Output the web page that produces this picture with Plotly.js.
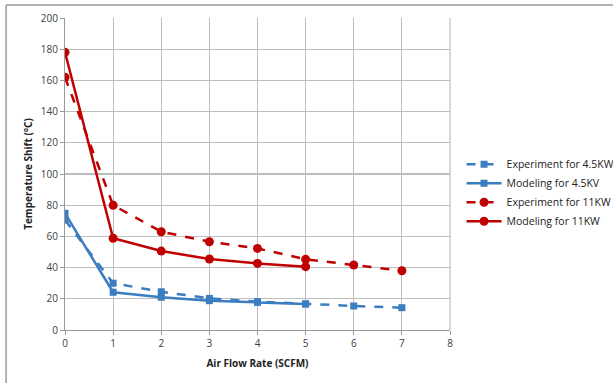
<!DOCTYPE html>
<html><head><meta charset="utf-8">
<script src="https://cdn.plot.ly/plotly-3.0.1.min.js"></script>
<style>html,body{margin:0;padding:0;background:#fff;}#chart{width:613px;height:383px;}</style>
</head><body><div id="chart"></div>
<script>
var xExp = [0, 1, 2, 3, 4, 5, 6, 7];
var xMod = [0, 1, 2, 3, 4, 5];
var exp45 = [70.5, 30, 24.5, 20.3, 18.2, 16.7, 15.4, 14.3];
var mod45 = [74.8, 24.2, 21, 18.8, 17.7, 16.7];
var exp11 = [162, 80, 63, 56.6, 52.3, 45.3, 41.7, 38];
var mod11 = [178, 58.8, 50.6, 45.5, 42.7, 40.6];
var names = ["Experiment for 4.5KW", "Modeling for 4.5KV", "Experiment for 11KW", "Modeling for 11KW"];
var blue = "#3A7DC0", red = "#C00000";

var traces = [
  {x: xExp, y: exp45, name: names[0], mode: "lines+markers", line: {color: blue, width: 2.5, dash: "dash"}, marker: {symbol: "square", size: 7, color: blue}},
  {x: xMod, y: mod45, name: names[1], mode: "lines+markers", line: {color: blue, width: 2.5}, marker: {symbol: "square", size: 7, color: blue}},
  {x: xExp, y: exp11, name: names[2], mode: "lines+markers", line: {color: red, width: 2.5, dash: "dash"}, marker: {symbol: "circle", size: 9, color: red}},
  {x: xMod, y: mod11, name: names[3], mode: "lines+markers", line: {color: red, width: 2.5}, marker: {symbol: "circle", size: 9, color: red}}
];

var layout = {
  width: 613, height: 383,
  margin: {l: 65, r: 163, t: 18, b: 53, autoexpand: false},
  paper_bgcolor: "#fff", plot_bgcolor: "#fff",
  font: {family: "Open Sans, Liberation Sans, sans-serif", size: 10, color: "#404040"},
  showlegend: true,
  legend: {x: 1.03, y: 0.44, xanchor: "left", yanchor: "middle", font: {size: 10.5, color: "#222"}, itemwidth: 35},
  xaxis: {range: [0, 8], dtick: 1, tick0: 0, showgrid: true, gridcolor: "#BEBEBE", gridwidth: 1.2, zeroline: false,
          showline: true, linecolor: "#9A9A9A", ticks: "outside", ticklen: 4, tickcolor: "#9A9A9A", mirror: false,
          title: {text: "Air Flow Rate (SCFM)", font: {size: 10, color: "#222", weight: "bold"}, standoff: 10}},
  yaxis: {range: [0, 200], dtick: 20, showgrid: true, gridcolor: "#BEBEBE", gridwidth: 1.2, zeroline: false,
          showline: true, linecolor: "#9A9A9A", ticks: "outside", ticklen: 4, tickcolor: "#9A9A9A",
          title: {text: "Temperature Shift (°C)", font: {size: 10, color: "#222", weight: "bold"}, standoff: 6}},
  shapes: [
    {type: "line", xref: "paper", yref: "paper", x0: 1, x1: 1, y0: 0, y1: 1, line: {color: "#BEBEBE", width: 1.2}},
    {type: "line", xref: "paper", yref: "paper", x0: -0.153, x1: 1.43, y0: 1.042, y1: 1.042, line: {color: "#999", width: 1.5}},
    {type: "line", xref: "paper", yref: "paper", x0: -0.153, x1: -0.153, y0: 1.042, y1: -0.18, line: {color: "#999", width: 1.5}}
  ]
};
Plotly.newPlot("chart", traces, layout, {displayModeBar: false, staticPlot: true});
</script></body></html>
